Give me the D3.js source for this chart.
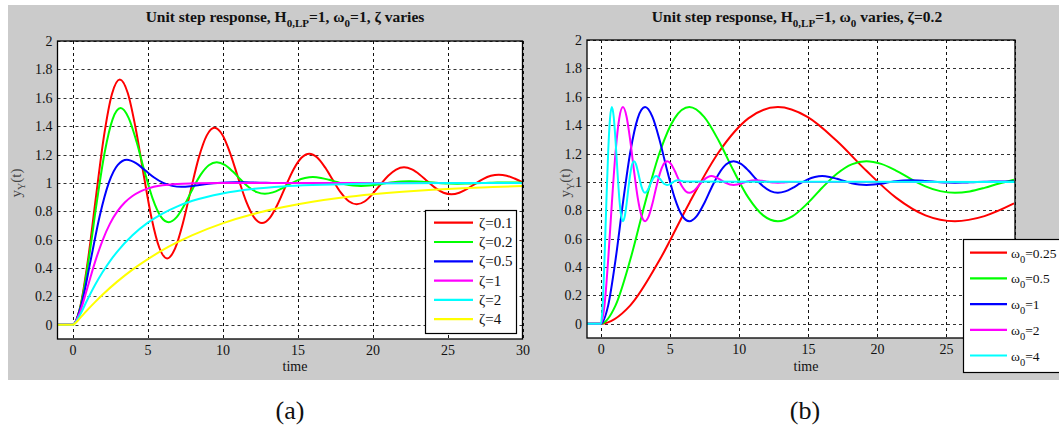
<!DOCTYPE html>
<html>
<head>
<meta charset="utf-8">
<script src="https://cdn.jsdelivr.net/npm/d3@7"></script>
<style>
  body { margin: 0; background: #fff; }
  text { font-family: "Liberation Serif", "Times New Roman", serif; }
</style>
</head>
<body>
<script>
// --- data ---
var xTicks = [0, 5, 10, 15, 20, 25, 30];
var yTicks = [0, 0.2, 0.4, 0.6, 0.8, 1, 1.2, 1.4, 1.6, 1.8, 2];
var yTickLabels = ['0', '0.2', '0.4', '0.6', '0.8', '1', '1.2', '1.4', '1.6', '1.8', '2'];

// (a) omega0 = 1, zeta varies
var zetaNames = ['ζ=0.1', 'ζ=0.2', 'ζ=0.5', 'ζ=1', 'ζ=2', 'ζ=4'];
var zetaColors = ['#ff0000', '#00ff00', '#0000ff', '#ff00ff', '#00ffff', '#ffff00'];

var tZeta01 = [0,0.526,1.052,1.579,2.105,2.631,3.157,3.684,4.210,4.736,5.262,5.789,6.315,6.841,7.367,7.894,8.420,8.946,9.472,9.999,10.525,11.051,11.577,12.103,12.630,13.156,13.682,14.208,14.735,15.261,15.787,16.313,16.840,17.366,17.892,18.418,18.945,19.471,19.997,20.523,21.049,21.576,22.102,22.628,23.154,23.681,24.207,24.733,25.259,25.786,26.312,26.838,27.364,27.891,28.417,28.943,29.469,29.996];
var yZeta01 = [0,0.131,0.472,0.914,1.335,1.627,1.729,1.634,1.385,1.063,0.756,0.543,0.468,0.538,0.719,0.954,1.178,1.333,1.388,1.337,1.205,1.033,0.870,0.757,0.717,0.754,0.851,0.976,1.095,1.177,1.206,1.179,1.109,1.018,0.931,0.871,0.850,0.869,0.921,0.987,1.050,1.094,1.110,1.095,1.058,1.009,0.963,0.931,0.920,0.931,0.958,0.993,1.027,1.050,1.058,1.051,1.031,1.005];

var tZeta02 = [0,0.534,1.069,1.603,2.138,2.672,3.206,3.741,4.275,4.810,5.344,5.878,6.413,6.947,7.482,8.016,8.550,9.085,9.619,10.154,10.688,11.222,11.757,12.291,12.826,13.360,13.894,14.429,14.963,15.497,16.032,16.566,17.101,17.635,18.169,18.704,19.238,19.773,20.307,20.841,21.376,21.910,22.445,22.979,23.513,24.048,24.582,25.117,25.651,26.185,26.720,27.254,27.789,28.323,28.857,29.392,29.926];
var yZeta02 = [0,0.130,0.453,0.852,1.211,1.448,1.527,1.458,1.288,1.078,0.889,0.764,0.723,0.759,0.848,0.959,1.058,1.124,1.146,1.127,1.080,1.022,0.969,0.935,0.923,0.933,0.958,0.989,1.016,1.034,1.041,1.035,1.022,1.006,0.991,0.982,0.979,0.981,0.988,0.997,1.005,1.010,1.011,1.010,1.006,1.002,0.998,0.995,0.994,0.995,0.997,0.999,1.001,1.003,1.003,1.003,1.002];

var tZeta05 = [0,0.605,1.209,1.814,2.418,3.023,3.628,4.232,4.837,5.441,6.046,6.651,7.255,7.860,8.464,9.069,9.674,10.278,10.883,11.487,12.092,12.697,13.301,13.906,30];
var yZeta05 = [0,0.147,0.454,0.767,1.000,1.127,1.163,1.139,1.089,1.038,1.000,0.979,0.973,0.977,0.986,0.994,1.000,1.003,1.004,1.004,1.002,1.001,1.000,1.000,1.000];

var tZeta1 = [0,0.5,1,1.5,2,2.5,3,3.5,4,4.5,5,6,7,8,10,30];
var yZeta1 = [0,0.090,0.264,0.442,0.594,0.713,0.801,0.864,0.908,0.939,0.960,0.983,0.993,0.997,1.000,1.000];

var tZeta2 = [0,0.25,0.5,1,1.5,2,2.5,3,4,5,6,7,8,10,12,14,16,18,20,25,30];
var yZeta2 = [0,0.023,0.070,0.178,0.280,0.370,0.449,0.518,0.631,0.718,0.784,0.835,0.874,0.926,0.957,0.975,0.985,0.991,0.995,0.999,1.000];

var tZeta4 = [0,0.25,0.5,1,1.5,2,3,4,5,6,7,8,10,12,14,16,18,20,22,24,26,28,30];
var yZeta4 = [0,0.018,0.047,0.105,0.160,0.212,0.306,0.389,0.461,0.526,0.582,0.632,0.715,0.779,0.828,0.867,0.897,0.920,0.938,0.952,0.963,0.971,0.978];

// (b) zeta = 0.2, omega0 varies
var omegaNames = ['=0.25', '=0.5', '=1', '=2', '=4'];
var omegaColors = ['#ff0000', '#00ff00', '#0000ff', '#ff00ff', '#00ffff'];

var tW025 = [0,2.138,4.275,6.413,8.550,10.688,12.826,14.963,17.101,19.238,21.376,23.513,25.651,27.789,29.926];
var yW025 = [0,0.130,0.453,0.852,1.211,1.448,1.527,1.458,1.288,1.078,0.889,0.764,0.723,0.759,0.848];

var tW05 = [0,1.069,2.138,3.206,4.275,5.344,6.413,7.482,8.550,9.619,10.688,11.757,12.826,13.894,14.963,16.032,17.101,18.169,19.238,20.307,21.376,22.445,23.513,24.582,25.651,26.720,27.789,28.857,29.926];
var yW05 = [0,0.130,0.453,0.852,1.211,1.448,1.527,1.458,1.288,1.078,0.889,0.764,0.723,0.759,0.848,0.959,1.058,1.124,1.146,1.127,1.080,1.022,0.969,0.935,0.923,0.933,0.958,0.989,1.016];

var tW1 = [0,0.534,1.069,1.603,2.138,2.672,3.206,3.741,4.275,4.810,5.344,5.878,6.413,6.947,7.482,8.016,8.550,9.085,9.619,10.154,10.688,11.222,11.757,12.291,12.826,13.360,13.894,14.429,14.963,15.497,16.032,16.566,17.101,17.635,18.169,18.704,19.238,19.773,20.307,20.841,21.376,21.910,22.445,22.979,23.513,24.048,24.582,25.117,25.651,26.185,26.720,27.254,27.789,28.323,28.857,29.392,29.926];
var yW1 = [0,0.130,0.453,0.852,1.211,1.448,1.527,1.458,1.288,1.078,0.889,0.764,0.723,0.759,0.848,0.959,1.058,1.124,1.146,1.127,1.080,1.022,0.969,0.935,0.923,0.933,0.958,0.989,1.016,1.034,1.041,1.035,1.022,1.006,0.991,0.982,0.979,0.981,0.988,0.997,1.005,1.010,1.011,1.010,1.006,1.002,0.998,0.995,0.994,0.995,0.997,0.999,1.001,1.003,1.003,1.003,1.002];

var tW2 = [0,0.267,0.534,0.802,1.069,1.336,1.603,1.870,2.138,2.405,2.672,2.939,3.206,3.474,3.741,4.008,4.275,4.542,4.810,5.077,5.344,5.611,5.878,6.146,6.413,6.680,6.947,7.214,7.482,7.749,8.016,8.283,8.550,8.818,9.085,9.352,9.619,9.886,10.154,10.421,10.688,10.955,11.222,11.490,11.757,12.024,12.291,12.558,12.826,13.093,13.360,13.627,30];
var yW2 = [0,0.130,0.453,0.852,1.211,1.448,1.527,1.458,1.288,1.078,0.889,0.764,0.723,0.759,0.848,0.959,1.058,1.124,1.146,1.127,1.080,1.022,0.969,0.935,0.923,0.933,0.958,0.989,1.016,1.034,1.041,1.035,1.022,1.006,0.991,0.982,0.979,0.981,0.988,0.997,1.005,1.010,1.011,1.010,1.006,1.002,0.998,0.995,0.994,0.995,0.997,0.999,1.000];

var tW4 = [0,0.134,0.267,0.401,0.534,0.668,0.802,0.935,1.069,1.202,1.336,1.470,1.603,1.737,1.870,2.004,2.138,2.271,2.405,2.538,2.672,2.806,2.939,3.073,3.206,3.340,3.474,3.607,3.741,3.874,4.008,4.142,4.275,4.409,4.542,4.676,4.810,4.943,5.077,5.210,5.344,5.478,5.611,5.745,5.878,6.012,30];
var yW4 = [0,0.130,0.453,0.852,1.211,1.448,1.527,1.458,1.288,1.078,0.889,0.764,0.723,0.759,0.848,0.959,1.058,1.124,1.146,1.127,1.080,1.022,0.969,0.935,0.923,0.933,0.958,0.989,1.016,1.034,1.041,1.035,1.022,1.006,0.991,0.982,0.979,0.981,0.988,0.997,1.005,1.010,1.011,1.010,1.006,1.002,1.000];

var width = 1059;
var height = 437;

var svg = d3.select('body').append('svg')
  .attr('width', width)
  .attr('height', height);

svg.append('rect').attr('width', width).attr('height', height).attr('fill', '#fff');
svg.append('rect')
  .attr('x', 8).attr('y', 5)
  .attr('width', width - 8).attr('height', 375)
  .attr('fill', '#cbcbcb');

// text with subscripts: parts = [[string, isSub], ...]
function rich(sel, parts, subSize, shift) {
  var down = false;
  parts.forEach(function(p) {
    var ts = sel.append('tspan').text(p[0]);
    if (p[1]) {
      ts.attr('font-size', subSize);
      if (!down) { ts.attr('dy', shift); down = true; }
    } else if (down) {
      ts.attr('dy', -shift);
      down = false;
    }
  });
  return sel;
}

function drawPanel(p, idx) {
  var g = svg.append('g');
  var x = d3.scaleLinear().domain([-1, 30]).range([p.left, p.right]);
  var y = d3.scaleLinear().domain([-0.1, 2]).range([p.bottom, p.top]);

  g.append('rect')
    .attr('x', p.left).attr('y', p.top)
    .attr('width', p.right - p.left).attr('height', p.bottom - p.top)
    .attr('fill', '#fff');

  // dashed grid
  g.selectAll('.vgrid').data(xTicks).enter().append('line')
    .attr('x1', function(d) { return Math.round(x(d)) + 0.5; })
    .attr('x2', function(d) { return Math.round(x(d)) + 0.5; })
    .attr('y1', p.top).attr('y2', p.bottom)
    .attr('stroke', '#111').attr('stroke-width', 1)
    .attr('stroke-dasharray', '3,3');
  g.selectAll('.hgrid').data(yTicks).enter().append('line')
    .attr('y1', function(d) { return Math.round(y(d)) + 0.5; })
    .attr('y2', function(d) { return Math.round(y(d)) + 0.5; })
    .attr('x1', p.left).attr('x2', p.right)
    .attr('stroke', '#333').attr('stroke-width', 1)
    .attr('stroke-dasharray', '3,3');

  var clipId = 'clip' + idx;
  svg.append('clipPath').attr('id', clipId).append('rect')
    .attr('x', p.left).attr('y', p.top)
    .attr('width', p.right - p.left).attr('height', p.bottom - p.top);

  var line = d3.line()
    .x(function(d) { return x(d[0]); })
    .y(function(d) { return y(d[1]); })
    .curve(d3.curveMonotoneX);

  var curves = g.append('g').attr('clip-path', 'url(#' + clipId + ')');
  p.series.forEach(function(s) {
    var pts = [[-1, 0]].concat(d3.zip(s.t, s.v));
    curves.append('path')
      .attr('d', line(pts))
      .attr('fill', 'none')
      .attr('stroke', s.color)
      .attr('stroke-width', 2);
  });

  g.append('rect')
    .attr('x', p.left).attr('y', p.top)
    .attr('width', p.right - p.left).attr('height', p.bottom - p.top)
    .attr('fill', 'none').attr('stroke', '#000').attr('stroke-width', 1.3);

  // axes (labels only); labels hidden under the legend are left out
  var xAxis = g.append('g')
    .attr('transform', 'translate(0,' + p.bottom + ')')
    .call(d3.axisBottom(x).tickValues(xTicks.filter(function(d) { return d <= p.xLabelMax; }))
      .tickSize(0).tickPadding(6));
  var yAxis = g.append('g')
    .attr('transform', 'translate(' + p.left + ',0)')
    .call(d3.axisLeft(y).tickValues(yTicks).tickSize(0).tickPadding(5)
      .tickFormat(function(d, i) { return yTickLabels[i]; }));
  [xAxis, yAxis].forEach(function(a) {
    a.select('.domain').remove();
    a.selectAll('text')
      .attr('font-family', '"Liberation Serif", serif')
      .attr('font-size', 14)
      .attr('fill', '#111');
  });

  // title
  rich(g.append('text')
    .attr('x', p.titleX).attr('y', 22)
    .attr('text-anchor', 'middle')
    .attr('font-size', 15.5).attr('font-weight', 'bold')
    .attr('fill', '#111'), p.title, 11, 5);

  // axis titles
  g.append('text')
    .attr('x', (p.left + p.right) / 2 + 5).attr('y', 371)
    .attr('text-anchor', 'middle')
    .attr('font-size', 14).attr('fill', '#111')
    .text('time');
  rich(g.append('text')
    .attr('transform', 'translate(' + p.labelX + ',183) rotate(-90)')
    .attr('text-anchor', 'middle')
    .attr('font-size', 15).attr('fill', '#444'),
    [['y', false], ['Y', true], ['(t)', false]], 10, 4);

  // legend
  var L = p.legend;
  var lg = g.append('g');
  lg.append('rect')
    .attr('x', L.x).attr('y', L.y).attr('width', L.w).attr('height', L.h)
    .attr('fill', '#fff').attr('stroke', '#000').attr('stroke-width', 1.2);
  p.series.forEach(function(s, i) {
    var ry = L.row0 + i * L.step;
    lg.append('line')
      .attr('x1', L.lx0).attr('x2', L.lx1)
      .attr('y1', ry).attr('y2', ry)
      .attr('stroke', s.color).attr('stroke-width', 2.2);
    rich(lg.append('text')
      .attr('x', L.tx).attr('y', ry + 5)
      .attr('font-size', L.fs).attr('fill', '#111'), s.label, L.fs - 3, 5);
  });
}

var panelA = {
  left: 57.5, right: 522.5, top: 41, bottom: 339, titleX: 285, labelX: 21, xLabelMax: 30,
  title: [['Unit step response, H', false], ['0,LP', true], ['=1, ω', false], ['0', true], ['=1, ζ varies', false]],
  legend: { x: 425.5, y: 210.5, w: 91, h: 123, row0: 222.7, step: 19.3, lx0: 434, lx1: 473, tx: 479, fs: 15 },
  series: [
    { t: tZeta01, v: yZeta01 },
    { t: tZeta02, v: yZeta02 },
    { t: tZeta05, v: yZeta05 },
    { t: tZeta1, v: yZeta1 },
    { t: tZeta2, v: yZeta2 },
    { t: tZeta4, v: yZeta4 }
  ].map(function(s, i) {
    s.color = zetaColors[i];
    s.label = [[zetaNames[i], false]];
    return s;
  })
};

var panelB = {
  left: 587, right: 1015, top: 40, bottom: 338, titleX: 797, labelX: 570, xLabelMax: 25,
  title: [['Unit step response, H', false], ['0,LP', true], ['=1, ω', false], ['0', true], [' varies, ζ=0.2', false]],
  legend: { x: 963.5, y: 239.5, w: 120, h: 133, row0: 252.7, step: 25.7, lx0: 970, lx1: 1007, tx: 1011, fs: 13.5 },
  series: [
    { t: tW025, v: yW025 },
    { t: tW05, v: yW05 },
    { t: tW1, v: yW1 },
    { t: tW2, v: yW2 },
    { t: tW4, v: yW4 }
  ].map(function(s, i) {
    s.color = omegaColors[i];
    s.label = [['ω', false], ['0', true], [omegaNames[i], false]];
    return s;
  })
};

drawPanel(panelA, 0);
drawPanel(panelB, 1);

// sub-figure captions
svg.append('text').attr('x', 290).attr('y', 419)
  .attr('text-anchor', 'middle').attr('font-size', 26).attr('fill', '#111')
  .text('(a)');
svg.append('text').attr('x', 805).attr('y', 419)
  .attr('text-anchor', 'middle').attr('font-size', 26).attr('fill', '#111')
  .text('(b)');
</script>
</body>
</html>
